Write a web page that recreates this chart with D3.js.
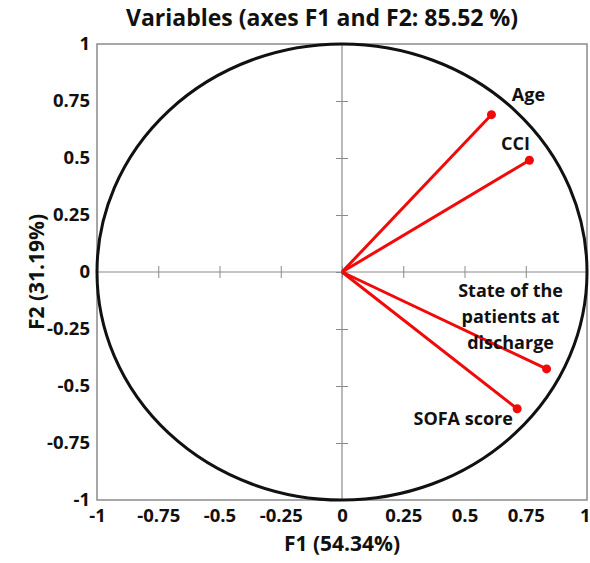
<!DOCTYPE html>
<html>
<head>
<meta charset="utf-8">
<style>
body { margin: 0; background: #fff; }
svg { display: block; font-family: "Open Sans", Lato, sans-serif; font-weight: bold; }
.tick text { font-size: 18.5px; font-weight: bold; fill: #111; font-family: "Open Sans", sans-serif; }
</style>
</head>
<body>
<svg id="svg"></svg>
<script src="https://cdnjs.cloudflare.com/ajax/libs/d3/7.8.5/d3.min.js"></script>
<script>
// variables and their loadings on F1 / F2
var names = ["Age", "CCI", "State of the patients at discharge", "SOFA score"]
var f1 = [0.61, 0.765, 0.835, 0.715]
var f2 = [0.69, 0.49, -0.425, -0.60]
var ticks = [-1, -0.75, -0.5, -0.25, 0, 0.25, 0.5, 0.75, 1]
var tickLabels = ["-1", "-0.75", "-0.5", "-0.25", "0", "0.25", "0.5", "0.75", "1"]

var W = 590, H = 563
var margin = {top: 44, right: 3, bottom: 63, left: 97}
var width = W - margin.left - margin.right,
    height = H - margin.top - margin.bottom

var svg = d3.select("#svg").attr("width", W).attr("height", H)

var x = d3.scaleLinear().domain([-1, 1]).range([0, width])
var y = d3.scaleLinear().domain([-1, 1]).range([height, 0])

var chart = svg.append("g")
    .attr("transform", "translate(" + margin.left + "," + margin.top + ")")

// frame
chart.append("rect")
    .attr("width", width).attr("height", height)
    .attr("fill", "none").attr("stroke", "#8a8a8a").attr("stroke-width", 1.5)

// tick labels outside the frame
var xAxis = d3.axisBottom(x).tickValues(ticks).tickSize(0).tickPadding(9)
    .tickFormat(function(d, i) { return tickLabels[i] })
var yAxis = d3.axisLeft(y).tickValues(ticks).tickSize(0).tickPadding(7)
    .tickFormat(function(d, i) { return tickLabels[i] })
chart.append("g").attr("transform", "translate(0," + height + ")").call(xAxis)
    .call(function(g) {
        g.select(".domain").remove()
        g.selectAll(".tick:last-of-type text").attr("text-anchor", "end").attr("dx", 3)
    })
chart.append("g").call(yAxis)
    .call(function(g) { g.select(".domain").remove() })

// zero lines with their small ticks
var xZero = d3.axisBottom(x).tickValues(ticks.slice(1, -1)).tickSizeInner(12).tickSizeOuter(0).tickFormat("")
var yZero = d3.axisLeft(y).tickValues(ticks.slice(1, -1)).tickSizeInner(12).tickSizeOuter(0).tickFormat("")
chart.append("g").attr("transform", "translate(0," + (y(0) - 6) + ")").call(xZero)
    .call(function(g) {
        g.select(".domain").remove()
        g.selectAll("line").attr("stroke", "#8a8a8a")
    })
chart.append("g").attr("transform", "translate(" + (x(0) + 6) + ",0)").call(yZero)
    .call(function(g) {
        g.select(".domain").remove()
        g.selectAll("line").attr("stroke", "#8a8a8a")
    })
chart.append("line").attr("x1", 0).attr("x2", width).attr("y1", y(0)).attr("y2", y(0))
    .attr("stroke", "#8a8a8a").attr("stroke-width", 1.2)
chart.append("line").attr("x1", x(0)).attr("x2", x(0)).attr("y1", 0).attr("y2", height)
    .attr("stroke", "#8a8a8a").attr("stroke-width", 1.2)

// correlation circle
chart.append("ellipse")
    .attr("cx", x(0)).attr("cy", y(0))
    .attr("rx", x(1) - x(0)).attr("ry", y(0) - y(1))
    .attr("fill", "none").attr("stroke", "#111").attr("stroke-width", 3)

// vectors
var pts = names.map(function(n, i) { return {name: n, f1: f1[i], f2: f2[i]} })
chart.selectAll(".vec").data(pts).enter().append("line")
    .attr("class", "vec")
    .attr("x1", x(0)).attr("y1", y(0))
    .attr("x2", function(d) { return x(d.f1) })
    .attr("y2", function(d) { return y(d.f2) })
    .attr("stroke", "#f00a0a").attr("stroke-width", 3)
chart.selectAll(".dot").data(pts).enter().append("circle")
    .attr("class", "dot")
    .attr("cx", function(d) { return x(d.f1) })
    .attr("cy", function(d) { return y(d.f2) })
    .attr("r", 4.5).attr("fill", "#f00a0a")

// labels, offsets picked by eye
var offs = [[37, -14, ["Age"]], [-14, -10, ["CCI"]],
            [-36, -72, ["State of the", "patients at", "discharge"]], [-54, 16, ["SOFA score"]]]
pts.forEach(function(d, i) {
    var t = chart.append("text")
        .attr("x", x(d.f1) + offs[i][0]).attr("y", y(d.f2) + offs[i][1])
        .attr("text-anchor", "middle").attr("font-size", 18).attr("fill", "#111")
    offs[i][2].forEach(function(s, j) {
        t.append("tspan").attr("x", x(d.f1) + offs[i][0]).attr("dy", j ? 26 : 0).text(s)
    })
})

// titles
svg.append("text").attr("x", 322).attr("y", 26).attr("text-anchor", "middle")
    .attr("font-size", 23).attr("fill", "#111").text("Variables (axes F1 and F2: 85.52 %)")
svg.append("text").attr("x", margin.left + x(0)).attr("y", 551).attr("text-anchor", "middle")
    .attr("font-size", 21).attr("fill", "#111").text("F1 (54.34%)")
svg.append("text").attr("transform", "translate(44," + (margin.top + y(0)) + ") rotate(-90)")
    .attr("text-anchor", "middle").attr("font-size", 21).attr("fill", "#111").text("F2 (31.19%)")
</script>
</body>
</html>
